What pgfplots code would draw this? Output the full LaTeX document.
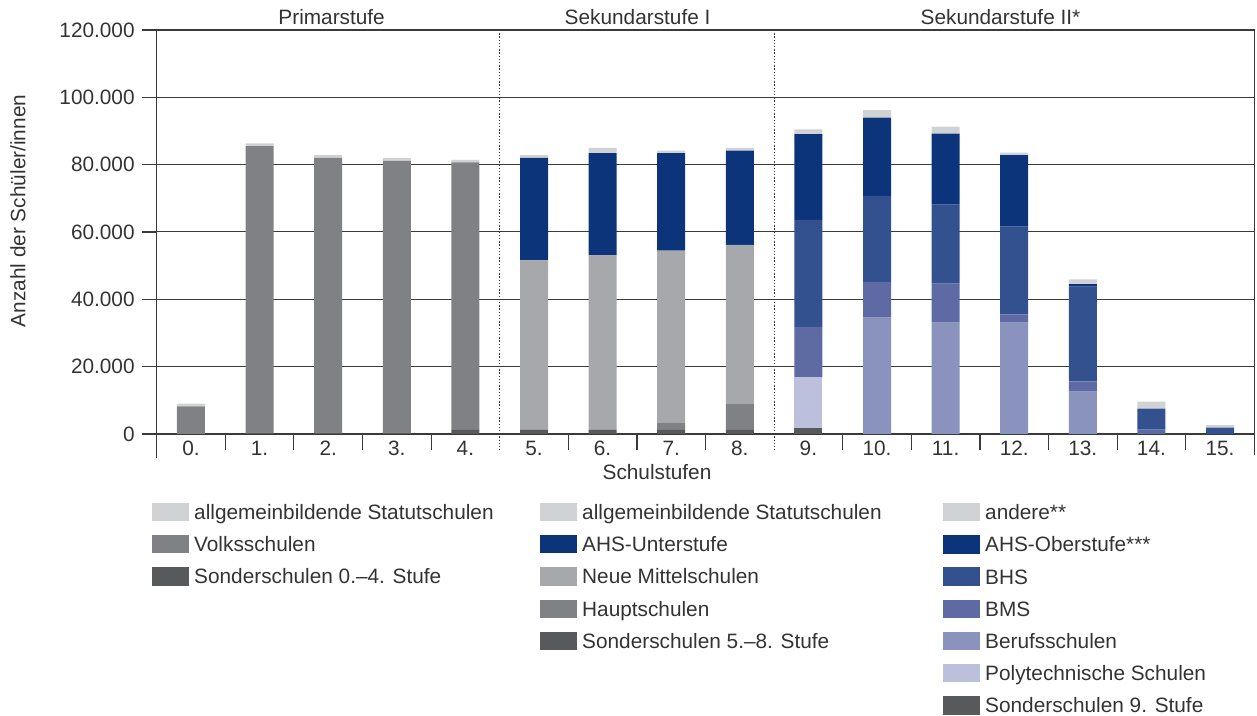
\documentclass[border=0pt]{standalone}
\usepackage{fontspec}
\setmainfont{Liberation Sans}
\usepackage{pgfplots}
\usepackage{pgfplotstable}
\pgfplotsset{compat=1.18}

\definecolor{cStat}{HTML}{D1D2D4}
\definecolor{cVolks}{HTML}{808184}
\definecolor{cSonder}{HTML}{58595B}
\definecolor{cNMS}{HTML}{A7A8AB}
\definecolor{cNavy}{HTML}{0B347B}
\definecolor{cBHS}{HTML}{33508F}
\definecolor{cBMS}{HTML}{5E6AA3}
\definecolor{cBerufs}{HTML}{8A93BD}
\definecolor{cPoly}{HTML}{BCC0DD}
\definecolor{cText}{HTML}{333333}
\definecolor{cLine}{HTML}{3A3A3A}

\pgfplotstableread{
x S04 Volks StatA S58 Haupt NMS AHSU StatB S9 Poly Berufs BMS BHS AHSO Andere
0  0    8200  800  0    0    0     0     0    0    0     0     0     0     0     0
1  500  85000 800  0    0    0     0     0    0    0     0     0     0     0     0
2  500  81500 900  0    0    0     0     0    0    0     0     0     0     0     0
3  500  80600 900  0    0    0     0     0    0    0     0     0     0     0     0
4  1250 79400 800  0    0    0     0     0    0    0     0     0     0     0     0
5  0    0     0    1250 0    50300 30500 800  0    0     0     0     0     0     0
6  0    0     0    1250 0    51800 30400 1500 0    0     0     0     0     0     0
7  0    0     0    1250 2000 51200 29000 700  0    0     0     0     0     0     0
8  0    0     0    1250 7600 47300 28000 800  0    0     0     0     0     0     0
9  0    0     0    0    0    0     0     0    1850 15000 0     15000 31750 25500 1400
10 0    0     0    0    0    0     0     0    0    0     34600 10600 25500 23300 2200
11 0    0     0    0    0    0     0     0    0    0     33100 11600 23400 21100 2100
12 0    0     0    0    0    0     0     0    0    0     33100 2400  26100 21200 800
13 0    0     0    0    0    0     0     0    0    0     12600 3000  28200 700   1400
14 0    0     0    0    0    0     0     0    0    0     0     1300  6200  0     2100
15 0    0     0    0    0    0     0     0    0    0     0     0     1900  0     700
}\data

\pgfplotsset{
  every axis/.append style={font=\fontsize{10.4}{12.5}\selectfont, text=cText},
  legend image code/.code={\fill[#1, draw=none] (0pt,-4.575pt) rectangle (18.5pt,4.575pt);},
  legcol/.style={
    hide axis, scale only axis, width=1pt, height=1pt,
    xmin=0, xmax=1, ymin=0, ymax=1, anchor=north west,
    legend cell align=left,
    legend style={at={(0,1)}, anchor=north west, draw=none, fill=none,
      inner sep=0pt, outer sep=0pt, row sep=6.95pt, column sep=2.6pt,
      font=\fontsize{10.4}{12.5}\selectfont, text=cText,
      nodes={inner sep=0pt, text height=8.3pt, text depth=0.85pt}},
  },
}

\begin{document}
\begin{tikzpicture}
\useasboundingbox (-78.35pt,217pt) rectangle (550.15pt,-141pt);
\begin{axis}[
  name=main,
  scale only axis, width=548.8pt, height=202pt,
  xmin=-0.5, xmax=15.5, ymin=0, ymax=120000,
  clip=false,
  ybar stacked, bar width=14pt,
  xtick={0,...,15},
  xticklabels={0.,1.,2.,3.,4.,5.,6.,7.,8.,9.,10.,11.,12.,13.,14.,15.},
  xtick style={draw=none},
  ytick={0,20000,40000,60000,80000,100000,120000},
  yticklabels={0,20.000,40.000,60.000,80.000,100.000,120.000},
  ytick pos=left,
  tick align=outside,
  major tick length=7.5pt,
  xticklabel style={yshift=7.5pt},
  scaled y ticks=false,
  ymajorgrids,
  grid style={cLine, line width=0.5pt},
  axis line style={cLine, line width=0.6pt},
  every tick/.style={cLine, line width=0.6pt},
  xlabel={Schulstufen},
  ylabel={Anzahl der Schüler/innen},
  every axis x label/.style={at={(rel axis cs:0.4558,-0.094)}, anchor=center},
  every axis y label/.style={at={(rel axis cs:-0.1264,0.552)}, rotate=90, anchor=center},
]
\addplot[fill=cSonder, draw=none] table[x=x, y=S04] {\data};
\addplot[fill=cVolks,  draw=none] table[x=x, y=Volks] {\data};
\addplot[fill=cStat,   draw=none] table[x=x, y=StatA] {\data};
\addplot[fill=cSonder, draw=none] table[x=x, y=S58] {\data};
\addplot[fill=cVolks,  draw=none] table[x=x, y=Haupt] {\data};
\addplot[fill=cNMS,    draw=none] table[x=x, y=NMS] {\data};
\addplot[fill=cNavy,   draw=none] table[x=x, y=AHSU] {\data};
\addplot[fill=cStat,   draw=none] table[x=x, y=StatB] {\data};
\addplot[fill=cSonder, draw=none] table[x=x, y=S9] {\data};
\addplot[fill=cPoly,   draw=none] table[x=x, y=Poly] {\data};
\addplot[fill=cBerufs, draw=none] table[x=x, y=Berufs] {\data};
\addplot[fill=cBMS,    draw=none] table[x=x, y=BMS] {\data};
\addplot[fill=cBHS,    draw=none] table[x=x, y=BHS] {\data};
\addplot[fill=cNavy,   draw=none] table[x=x, y=AHSO] {\data};
\addplot[fill=cStat,   draw=none] table[x=x, y=Andere] {\data};

\pgfplotsinvokeforeach{0.5,1.5,2.5,3.5,5.5,6.5,7.5,9.5,10.5,11.5,12.5,13.5,14.5}{
  \draw[cLine, line width=0.6pt] (axis cs:#1,0) -- ++(0pt,-8.2pt);
}
\draw[cLine, line width=0.6pt, dash pattern=on 0.7pt off 0.9pt] (axis cs:4.5,120000) -- (axis cs:4.5,0) -- ++(0pt,-8pt);
\draw[cLine, line width=0.6pt, dash pattern=on 0.7pt off 0.9pt] (axis cs:8.5,120000) -- (axis cs:8.5,0) -- ++(0pt,-8pt);
\draw[cLine, line width=0.6pt] (axis cs:-0.5,0) -- ++(0pt,-12pt);
\draw[cLine, line width=0.6pt] (axis cs:15.5,0) -- ++(0pt,-10.5pt);

\node[anchor=base, yshift=2.5pt] at (axis cs:2.05,120000) {Primarstufe};
\node[anchor=base, yshift=2.5pt] at (axis cs:6.51,120000) {Sekundarstufe I};
\node[anchor=base, yshift=2.5pt] at (axis cs:11.8,120000) {Sekundarstufe II*};
\end{axis}

\begin{axis}[legcol, at={(-2.35pt,-34.5pt)}]
\addlegendimage{fill=cStat}\addlegendentry{allgemeinbildende Statutschulen}
\addlegendimage{fill=cVolks}\addlegendentry{Volksschulen}
\addlegendimage{fill=cSonder}\addlegendentry{Sonderschulen 0.--4. Stufe}
\end{axis}

\begin{axis}[legcol, at={(191.65pt,-34.5pt)}]
\addlegendimage{fill=cStat}\addlegendentry{allgemeinbildende Statutschulen}
\addlegendimage{fill=cNavy}\addlegendentry{AHS-Unterstufe}
\addlegendimage{fill=cNMS}\addlegendentry{Neue Mittelschulen}
\addlegendimage{fill=cVolks}\addlegendentry{Hauptschulen}
\addlegendimage{fill=cSonder}\addlegendentry{Sonderschulen 5.--8. Stufe}
\end{axis}

\begin{axis}[legcol, at={(393.15pt,-34.5pt)}]
\addlegendimage{fill=cStat}\addlegendentry{andere**}
\addlegendimage{fill=cNavy}\addlegendentry{AHS-Oberstufe***}
\addlegendimage{fill=cBHS}\addlegendentry{BHS}
\addlegendimage{fill=cBMS}\addlegendentry{BMS}
\addlegendimage{fill=cBerufs}\addlegendentry{Berufsschulen}
\addlegendimage{fill=cPoly}\addlegendentry{Polytechnische Schulen}
\addlegendimage{fill=cSonder}\addlegendentry{Sonderschulen 9. Stufe}
\end{axis}
\end{tikzpicture}
\end{document}
